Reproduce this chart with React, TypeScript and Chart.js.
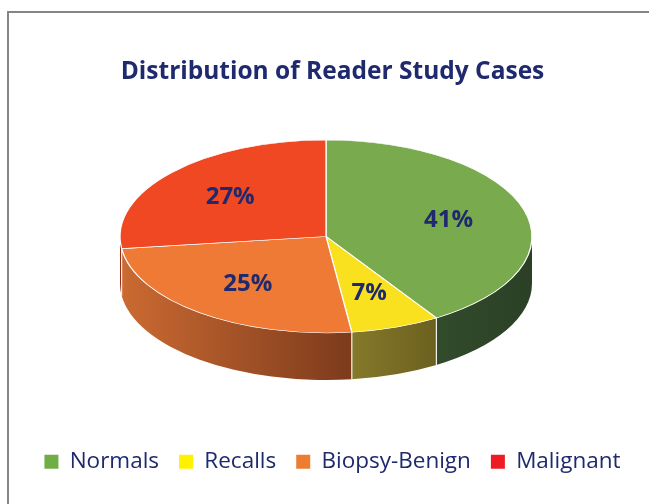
import React, { useEffect, useRef } from "react";
import { Chart, registerables } from "chart.js";

Chart.register(...registerables);

// ---- data ----
const categories = ["Normals", "Recalls", "Biopsy-Benign", "Malignant"];
const shares = [41, 7, 25, 27];
const titleText = "Distribution of Reader Study Cases";

// ---- styles ----
const sliceColors = ["#79AA4E", "#F9E11F", "#EF7A36", "#EF4823"];
const legendColors = ["#70AD47", "#FFF200", "#ED7D31", "#ED1C24"];
const sideLeft = ["#324B2B", "#85792A", "#CB6A32", "#A8321A"];
const sideRight = ["#2B4026", "#6C6020", "#7C3B1C", "#7A2412"];
const NAVY = "#1F2A6E";
const FONT = "'Open Sans', 'DejaVu Sans', sans-serif";
const E = { cx: 326, cy: 236.5, rx: 206, ry: 96.5, depth: 47, labelR: 0.62 };

const framePlugin = {
  id: "frame",
  beforeDraw(chart: any) {
    const ctx = chart.ctx;
    ctx.save();
    ctx.fillStyle = "#ffffff";
    ctx.fillRect(0, 0, chart.width, chart.height);
    ctx.strokeStyle = "#858585";
    ctx.lineWidth = 2;
    ctx.beginPath();
    ctx.moveTo(8, chart.height);
    ctx.lineTo(8, 12);
    ctx.lineTo(chart.width, 12);
    ctx.stroke();
    ctx.restore();
  },
};

const pie3dPlugin = {
  id: "pie3d",
  beforeDatasetsDraw(chart: any) {
    const meta = chart.getDatasetMeta(0);
    const arcs = meta.data;
    if (!arcs.length) return;
    const ctx = chart.ctx;
    const a0: any = arcs[0];
    const R = a0.outerRadius;
    // extruded side for the front-facing part of each slice
    ctx.save();
    arcs.forEach((arc: any, i: number) => {
      const lo = Math.max(arc.startAngle, 0);
      const hi = Math.min(arc.endAngle, Math.PI);
      if (hi <= lo) return;
      const xl = E.cx + E.rx * Math.cos(hi);
      const xr = E.cx + E.rx * Math.cos(lo);
      const g = ctx.createLinearGradient(xl, 0, xr, 0);
      g.addColorStop(0, sideLeft[i]);
      g.addColorStop(1, sideRight[i]);
      ctx.beginPath();
      ctx.ellipse(E.cx, E.cy, E.rx, E.ry, 0, lo, hi, false);
      ctx.lineTo(E.cx + E.rx * Math.cos(hi), E.cy + E.ry * Math.sin(hi) + E.depth);
      ctx.ellipse(E.cx, E.cy + E.depth, E.rx, E.ry, 0, hi, lo, true);
      ctx.closePath();
      ctx.fillStyle = g;
      ctx.fill();
    });
    // white separators on the side at slice boundaries
    ctx.strokeStyle = "rgba(255,255,255,0.9)";
    ctx.lineWidth = 1.2;
    arcs.forEach((arc: any) => {
      const a = arc.startAngle;
      if (a > 0.01 && a < Math.PI - 0.01) {
        const px = E.cx + E.rx * Math.cos(a);
        const py = E.cy + E.ry * Math.sin(a);
        ctx.beginPath();
        ctx.moveTo(px, py);
        ctx.lineTo(px, py + E.depth);
        ctx.stroke();
      }
    });
    ctx.restore();
    // squash the circular pie into the top ellipse
    ctx.save();
    ctx.translate(E.cx, E.cy);
    ctx.scale(E.rx / R, E.ry / R);
    ctx.translate(-a0.x, -a0.y);
  },
  afterDatasetsDraw(chart: any) {
    const meta = chart.getDatasetMeta(0);
    const arcs = meta.data;
    if (!arcs.length) return;
    const ctx = chart.ctx;
    ctx.restore();
    ctx.save();
    ctx.font = `bold 24px ${FONT}`;
    ctx.fillStyle = NAVY;
    ctx.textAlign = "center";
    ctx.textBaseline = "middle";
    arcs.forEach((arc: any, i: number) => {
      const mid = (arc.startAngle + arc.endAngle) / 2;
      const px = E.cx + E.rx * E.labelR * Math.cos(mid);
      const py = E.cy + E.ry * E.labelR * Math.sin(mid);
      ctx.fillText(`${shares[i]}%`, px, py);
    });
    ctx.restore();
  },
};

export default function App() {
  const ref = useRef<HTMLCanvasElement | null>(null);
  useEffect(() => {
    if (!ref.current) return;
    const chart = new Chart(ref.current, {
      type: "pie",
      data: {
        labels: categories,
        datasets: [
          {
            data: shares,
            backgroundColor: sliceColors,
            borderColor: "#ffffff",
            borderWidth: 1,
            clip: false as any,
          },
        ],
      },
      options: {
        responsive: false,
        animation: false,
        layout: { padding: { left: 16, right: 0, top: 0, bottom: 21 } },
        plugins: {
          tooltip: { enabled: false },
          title: {
            display: true,
            text: titleText,
            color: NAVY,
            font: { family: FONT, size: 24.5, weight: "bold" },
            padding: { top: 57, bottom: 20 },
          },
          legend: {
            display: true,
            position: "bottom",
            labels: {
              color: NAVY,
              font: { family: FONT, size: 22.5 },
              boxWidth: 14,
              boxHeight: 14,
              padding: 20,
              generateLabels: () =>
                categories.map((c, i) => ({
                  text: c,
                  fillStyle: legendColors[i],
                  strokeStyle: legendColors[i],
                  lineWidth: 0,
                  hidden: false,
                  index: i,
                  fontColor: NAVY,
                })),
            },
          },
        },
      },
      plugins: [framePlugin, pie3dPlugin],
    });
    return () => chart.destroy();
  }, []);
  return (
    <div style={{ position: "absolute", left: 0, top: 0, width: 649, height: 504 }}>
      <canvas ref={ref} width={649} height={504} style={{ display: "block" }} />
    </div>
  );
}
